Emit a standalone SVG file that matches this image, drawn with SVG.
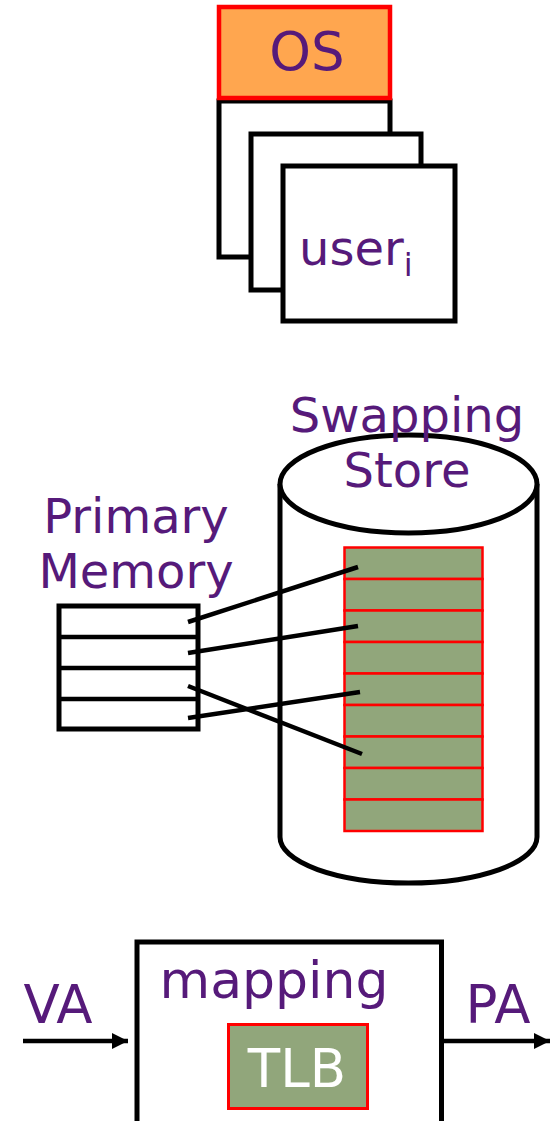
<svg xmlns="http://www.w3.org/2000/svg" width="553" height="1121" viewBox="0 0 553 1121">
<style>
.t{font-family:"DejaVu Sans",Verdana,sans-serif;fill:#561A7A;}
.box{fill:#fff;stroke:#000;stroke-width:5;}
.green{fill:#91A67B;stroke:#FF0000;stroke-width:2.5;}
.ln{stroke:#000;stroke-width:4.5;fill:none;}
</style>
<defs>
<marker id="arr" markerWidth="18" markerHeight="18" refX="16" refY="8" orient="auto" markerUnits="userSpaceOnUse">
<path d="M0,0 L16,8 L0,16 Z" fill="#000"/>
</marker>
</defs>
<rect width="553" height="1121" fill="#fff"/>
<g id="user-back"><rect class="box" x="219" y="101" width="171" height="156"/></g>
<g id="user-mid"><rect class="box" x="251" y="134" width="170" height="156"/></g>
<g id="user-front"><rect class="box" x="283" y="166" width="172" height="155"/>
<text class="t" x="299" y="265" font-size="48">user<tspan font-size="32" dy="11">i</tspan></text></g>
<g id="os"><rect x="219" y="7" width="171" height="91" fill="#FFA64F" stroke="#FF0000" stroke-width="4.5"/>
<text class="t" x="307" y="70" font-size="53" text-anchor="middle">OS</text></g>
<g id="swapping-store">
<path d="M280,484 L280,837 A128.5,46 0 0 0 537,837 L537,484" fill="#fff" stroke="#000" stroke-width="5"/>
<ellipse cx="408.5" cy="484" rx="128.5" ry="49" fill="#fff" stroke="#000" stroke-width="5"/>
<rect class="green" x="344.5" y="547.5" width="138" height="31.5"/>
<rect class="green" x="344.5" y="579" width="138" height="31.5"/>
<rect class="green" x="344.5" y="610.5" width="138" height="31.5"/>
<rect class="green" x="344.5" y="642" width="138" height="31.5"/>
<rect class="green" x="344.5" y="673.5" width="138" height="31.5"/>
<rect class="green" x="344.5" y="705" width="138" height="31.5"/>
<rect class="green" x="344.5" y="736.5" width="138" height="31.5"/>
<rect class="green" x="344.5" y="768" width="138" height="31.5"/>
<rect class="green" x="344.5" y="799.5" width="138" height="31.5"/>
<text class="t" x="407" y="432" font-size="48" text-anchor="middle">Swapping</text>
<text class="t" x="407" y="487" font-size="48" text-anchor="middle">Store</text>
</g>
<g id="primary-memory">
<text class="t" x="136" y="533" font-size="48" text-anchor="middle">Primary</text>
<text class="t" x="136" y="588" font-size="48" text-anchor="middle">Memory</text>
<rect class="box" x="59" y="606" width="139" height="123"/>
<line class="ln" x1="59" y1="637" x2="198" y2="637"/>
<line class="ln" x1="59" y1="668" x2="198" y2="668"/>
<line class="ln" x1="59" y1="699" x2="198" y2="699"/>
</g>
<g id="mapping"><rect class="box" x="137" y="942" width="304.5" height="200"/>
<text class="t" x="274" y="998" font-size="52" text-anchor="middle">mapping</text></g>
<g id="tlb"><rect x="228.5" y="1024.5" width="139" height="84" fill="#91A67B" stroke="#FF0000" stroke-width="3"/>
<text x="297" y="1087" font-size="53" text-anchor="middle" font-family="DejaVu Sans,Verdana,sans-serif" fill="#fff">TLB</text></g>
<g id="labels">
<text class="t" x="58" y="1023" font-size="53" text-anchor="middle">VA</text>
<text class="t" x="498" y="1023" font-size="53" text-anchor="middle">PA</text>
</g>
<g id="connectors">
<line class="ln" x1="188" y1="622" x2="358" y2="567"/>
<line class="ln" x1="188" y1="653" x2="358" y2="626"/>
<line class="ln" x1="188" y1="686" x2="362" y2="754"/>
<line class="ln" x1="188" y1="718" x2="360" y2="692"/>
<line class="ln" x1="23" y1="1041" x2="128" y2="1041" marker-end="url(#arr)"/>
<line class="ln" x1="441" y1="1041" x2="550" y2="1041" marker-end="url(#arr)"/>
</g>
</svg>
